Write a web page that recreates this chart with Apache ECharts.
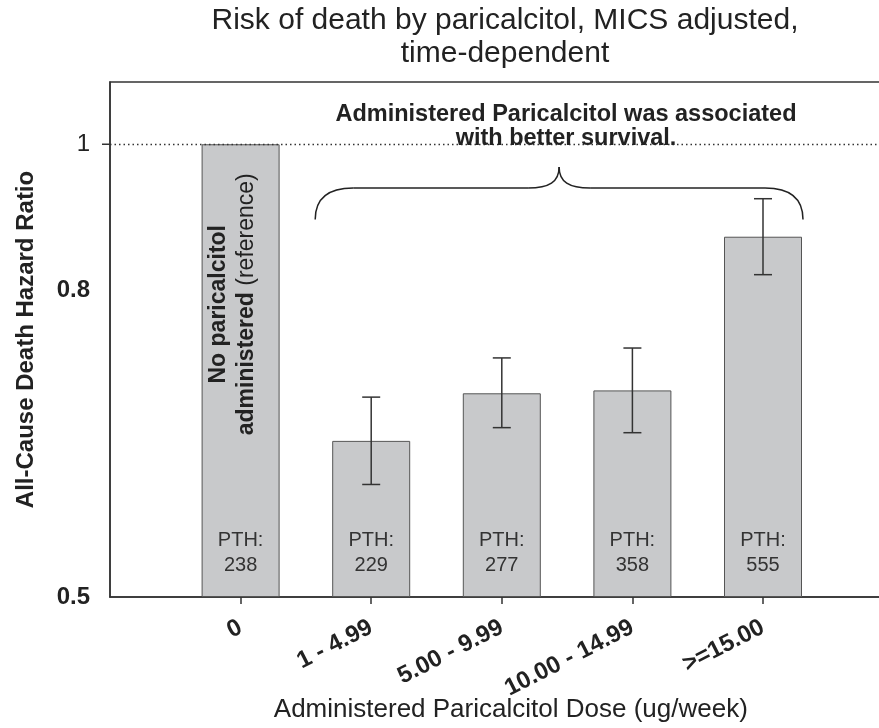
<!DOCTYPE html>
<html><head><meta charset="utf-8">
<script src="https://cdn.jsdelivr.net/npm/echarts@6/dist/echarts.min.js"></script>
<style>html,body{margin:0;padding:0;background:#fff}#c{width:879px;height:728px}</style>
</head><body><div id="c"></div>
<script>
// ---- data ----
const categories = ['0', '1 - 4.99', '5.00 - 9.99', '10.00 - 14.99', '>=15.00'];
const hazardRatio = [1.0, 0.635, 0.683, 0.686, 0.868];
const ciLower = [null, 0.594, 0.648, 0.643, 0.819];
const ciUpper = [null, 0.679, 0.721, 0.732, 0.920];
const pthValues = [238, 229, 277, 358, 555];
const yTickValues = [0.5, 0.8, 1];
const yTickLabels = ['0.5', '0.8', '1'];
const yTickBold = [true, true, false];

const FONT = '"Liberation Sans", Arial, Helvetica, sans-serif';
const axisCats = [''].concat(categories, ['']);
const barData = ['-'].concat(hazardRatio, ['-']);
const errData = [];
categories.forEach((c, i) => { if (ciLower[i] != null) errData.push([c, ciLower[i], ciUpper[i]]); });

const chart = echarts.init(document.getElementById('c'), null, {renderer: 'canvas'});
const option = {
  animation: false,
  backgroundColor: '#fff',
  textStyle: {fontFamily: FONT},
  grid: {left: 110, top: 82, right: -14.6, bottom: 131, show: true, borderColor: '#333', borderWidth: 1.5,
         containLabel: false, outerBoundsMode: 'none'},
  xAxis: {
    type: 'category', data: axisCats, boundaryGap: false,
    name: 'Administered Paricalcitol Dose (ug/week)', nameLocation: 'middle', nameGap: 100, nameMoveOverlap: false,
    nameTextStyle: {fontSize: 26, color: '#222', fontFamily: FONT, padding: [0, 0, 0, 18]},
    axisLine: {lineStyle: {color: '#333', width: 1.5}},
    axisTick: {show: true, length: 7, lineStyle: {color: '#333', width: 1.5},
               interval: (idx, val) => val !== ''},
    axisLabel: {interval: 0, rotate: 27, fontSize: 24, fontWeight: 'bold', color: '#222', margin: 29, fontFamily: FONT},
    splitLine: {show: false}
  },
  yAxis: {
    type: 'log', logBase: 10, min: 0.5, max: 1.1, startValue: 0.5,
    name: 'All-Cause Death Hazard Ratio', nameLocation: 'middle', nameGap: 72, nameMoveOverlap: false,
    nameTextStyle: {fontSize: 24, fontWeight: 'bold', color: '#222', fontFamily: FONT},
    axisLine: {show: true, lineStyle: {color: '#333', width: 1.5}},
    axisTick: {show: false}, axisLabel: {show: false}, splitLine: {show: false}, minorTick: {show: false}
  },
  series: [
    {
      type: 'bar', data: barData, barWidth: 78,
      itemStyle: {color: '#c8c9cb', borderColor: '#555', borderWidth: 1},
      label: {show: true, position: 'insideBottom', distance: 19, fontSize: 20, lineHeight: 25,
              color: '#333', fontFamily: FONT,
              formatter: p => 'PTH:\n' + pthValues[p.dataIndex - 1]},
      markLine: {silent: true, symbol: 'none', label: {show: false},
                 lineStyle: {type: [1.5, 3], color: '#333', width: 1.3},
                 data: [{yAxis: 1}]}
    },
    {
      type: 'custom', data: errData, encode: {x: 0, y: [1, 2]}, z: 5,
      renderItem: function (params, api) {
        const lo = api.coord([api.value(0), api.value(1)]);
        const hi = api.coord([api.value(0), api.value(2)]);
        const hw = 9;
        const st = {stroke: '#333', lineWidth: 1.5};
        return {type: 'group', children: [
          {type: 'line', shape: {x1: lo[0], y1: lo[1], x2: hi[0], y2: hi[1]}, style: st},
          {type: 'line', shape: {x1: lo[0] - hw, y1: lo[1], x2: lo[0] + hw, y2: lo[1]}, style: st},
          {type: 'line', shape: {x1: hi[0] - hw, y1: hi[1], x2: hi[0] + hw, y2: hi[1]}, style: st}
        ]};
      }
    }
  ]
};
chart.setOption(option);

// ---- annotations placed through the chart's own scales ----
const yPx = v => chart.convertToPixel({yAxisIndex: 0}, v);
const xPx = c => chart.convertToPixel({xAxisIndex: 0}, c);
const graphics = [];
yTickValues.forEach((v, i) => {
  graphics.push({type: 'text', x: 90, y: yPx(v), style: {text: yTickLabels[i], fontSize: 24,
    fontWeight: yTickBold[i] ? 'bold' : 'normal', fill: '#222', align: 'right', verticalAlign: 'middle', fontFamily: FONT}});
});
graphics.push({type: 'line', shape: {x1: 102, y1: yPx(1), x2: 110, y2: yPx(1)}, style: {stroke: '#333', lineWidth: 1.5}});
// title
graphics.push({type: 'text', x: 505, y: 37, style: {text: 'Risk of death by paricalcitol, MICS adjusted,\ntime-dependent',
  fontSize: 30, lineHeight: 33, fill: '#222', align: 'center', verticalAlign: 'middle', fontFamily: FONT}});
// reference bar text
const c0 = xPx(categories[0]);
graphics.push({type: 'text', x: c0 - 8, y: yPx(1) + 160, rotation: Math.PI / 2, z: 10,
  style: {text: '{b|No paricalcitol}\n{b|administered} {n|(reference)}', align: 'center', verticalAlign: 'middle',
    fill: '#222', fontSize: 23, lineHeight: 28, fontFamily: FONT,
    rich: {b: {fontWeight: 'bold', fontSize: 23, lineHeight: 28, fontFamily: FONT, fill: '#222'},
           n: {fontWeight: 'normal', fontSize: 23, lineHeight: 28, fontFamily: FONT, fill: '#222'}}}});
// annotation text
graphics.push({type: 'text', x: 566, y: 127, z: 10,
  style: {text: 'Administered Paricalcitol was associated\nwith better survival.', align: 'center', verticalAlign: 'middle',
    fontSize: 23.5, lineHeight: 24, fontWeight: 'bold', fill: '#222', fontFamily: FONT}});
// brace
const bl = xPx(categories[1]) - 56, br = xPx(categories[4]) + 40, bm = (bl + br) / 2;
const yb = 219.5, yt = 188, ytip = 167;
const bst = {fill: 'none', stroke: '#222', lineWidth: 1.5};
graphics.push(
  {type: 'bezierCurve', z: 10, shape: {x1: bl, y1: yb, cpx1: bl, cpy1: yt + 10, cpx2: bl + 14, cpy2: yt, x2: bl + 38, y2: yt}, style: bst},
  {type: 'line', z: 10, shape: {x1: bl + 38, y1: yt, x2: bm - 31, y2: yt}, style: bst},
  {type: 'bezierCurve', z: 10, shape: {x1: bm - 31, y1: yt, cpx1: bm - 10, cpy1: yt, cpx2: bm, cpy2: yt - 6, x2: bm, y2: ytip}, style: bst},
  {type: 'bezierCurve', z: 10, shape: {x1: bm, y1: ytip, cpx1: bm, cpy1: yt - 6, cpx2: bm + 10, cpy2: yt, x2: bm + 31, y2: yt}, style: bst},
  {type: 'line', z: 10, shape: {x1: bm + 31, y1: yt, x2: br - 38, y2: yt}, style: bst},
  {type: 'bezierCurve', z: 10, shape: {x1: br - 38, y1: yt, cpx1: br - 14, cpy1: yt, cpx2: br, cpy2: yt + 10, x2: br, y2: yb}, style: bst}
);
chart.setOption({graphic: graphics});
</script>
</body></html>
